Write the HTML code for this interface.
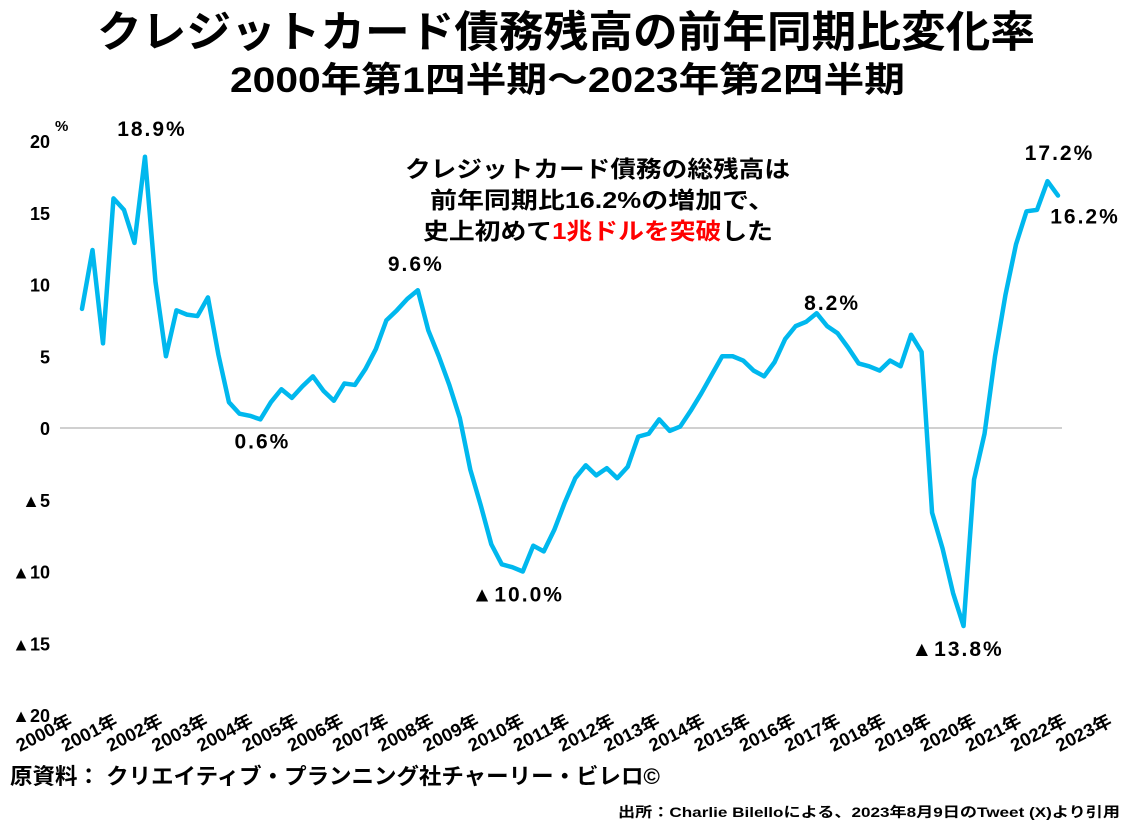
<!DOCTYPE html>
<html><head><meta charset="utf-8"><style>
body{margin:0;background:#fff;width:1130px;height:825px;overflow:hidden}
svg{display:block}
text{font-family:"Liberation Sans","Noto Sans CJK JP",sans-serif;font-weight:bold;fill:#000}
</style></head><body>
<svg id="c" width="1130" height="825">
<text x="97" y="47" textLength="938" lengthAdjust="spacingAndGlyphs" font-size="43">クレジットカード債務残高の前年同期比変化率</text>
<text x="230" y="92" textLength="675" lengthAdjust="spacingAndGlyphs" font-size="35">2000年第1四半期～2023年第2四半期</text>
<text x="55" y="131" font-size="15">%</text>
<g font-size="23">
<text x="405" y="177" textLength="385" lengthAdjust="spacingAndGlyphs">クレジットカード債務の総残高は</text>
<text x="430" y="208" textLength="345" lengthAdjust="spacingAndGlyphs">前年同期比16.2%の増加で、</text>
<text x="423" y="239" textLength="350" lengthAdjust="spacingAndGlyphs">史上初めて<tspan fill="#ff0000" style="fill:#ff0000">1兆ドルを突破</tspan>した</text>
</g>
<g id="yaxis"></g><g id="xaxis"></g><g id="plot"></g><g id="labels"></g>
<text x="10" y="784" textLength="650" lengthAdjust="spacingAndGlyphs" font-size="22">原資料： クリエイティブ・プランニング社チャーリー・ビレロ©</text>
<text x="618" y="817" textLength="502" lengthAdjust="spacingAndGlyphs" font-size="14">出所：Charlie Bilelloによる、2023年8月9日のTweet (X)より引用</text>
</svg>
<script>
const values=[8.3,12.4,5.9,16.0,15.2,12.9,18.9,
10.2,5.0,8.2,7.9,7.8,9.1,5.1,1.8,1.0,0.85,0.6,
1.8,2.7,2.1,2.9,3.6,2.6,1.9,3.1,3.0,4.1,
5.5,7.5,8.2,9.0,9.6,6.8,5.0,3.0,0.7,-2.9,
-5.4,-8.1,-9.5,-9.7,-10.0,-8.2,-8.6,-7.1,-5.2,-3.5,
-2.6,-3.3,-2.8,-3.5,-2.7,-0.6,-0.4,0.6,-0.2,0.1,
1.2,2.4,3.7,5.0,5.0,4.7,4.0,3.6,4.6,6.2,
7.1,7.4,8.0,7.1,6.6,5.6,4.5,4.3,4.0,4.7,
4.3,6.5,5.3,-5.9,-8.4,-11.5,-13.8,-3.6,-0.4,5.0,
9.3,12.8,15.1,15.2,17.2,16.2];
const yTicks=[20,15,10,5,0,-5,-10,-15,-20];
const years=[];for(let y=2000;y<=2023;y++)years.push(y);
const callouts=[{i:6,t:"18.9%",dx:7,dy:-21},{i:17,t:"0.6%",dx:2,dy:29},{i:32,t:"9.6%",dx:-2,dy:-19},{i:42,t:"▲10.0%",dx:-5,dy:30},{i:71,t:"8.2%",dx:5,dy:-16},{i:84,t:"▲13.8%",dx:-6,dy:30},{i:92,t:"17.2%",dx:12,dy:-21},{i:93,t:"16.2%",dx:27,dy:28}];
const NS="http://www.w3.org/2000/svg";
const x=i=>82+i*(976/(values.length-1));
const y=v=>428-v*14.35;
function mk(tag,attrs,parent){const e=document.createElementNS(NS,tag);for(const k in attrs)e.setAttribute(k,attrs[k]);parent.appendChild(e);return e;}
const ya=document.getElementById('yaxis');
yTicks.forEach(v=>{const t=mk('text',{x:50,y:y(v)+7,'text-anchor':'end','font-size':18},ya);


t.textContent=(v<0?'▲'+(-v):v);});
const g=mk('line',{x1:60,x2:1062,y1:y(0),y2:y(0),stroke:'#d0d0d0','stroke-width':2},ya);


const xa=document.getElementById('xaxis');
years.forEach((yr,k)=>{const px=20+k*45.2;const t=mk('text',{x:px,y:752,'font-size':18,textLength:60,lengthAdjust:'spacingAndGlyphs',transform:`rotate(-27 ${px} 752)`},xa);


t.textContent=yr+'年';});
const pl=document.getElementById('plot');
const p=mk('polyline',{points:values.map((v,i)=>x(i)+','+y(v)).join(' '),fill:'none',stroke:'#00b8ee','stroke-width':4.5,'stroke-linejoin':'round','stroke-linecap':'round'},pl);


const lb=document.getElementById('labels');
callouts.forEach(c=>{const t=mk('text',{x:x(c.i)+c.dx,y:y(values[c.i])+c.dy,'text-anchor':'middle','font-size':21,'letter-spacing':2},lb);


t.textContent=c.t;});
</script>
</body></html>
